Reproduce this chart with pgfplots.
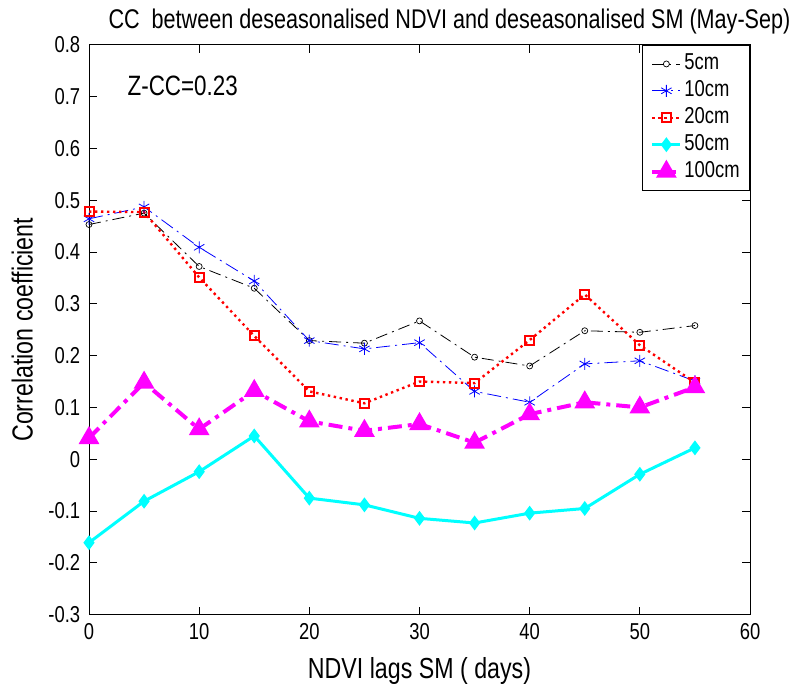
\documentclass[border=0pt]{standalone}
\usepackage{fontspec}
\setmainfont{Liberation Sans}[FakeStretch=0.8]
\usepackage{pgfplots}
\pgfplotsset{compat=1.18}
\definecolor{mcyan}{rgb}{0,1,1}
\definecolor{mmag}{rgb}{1,0,1}
\definecolor{mblue}{rgb}{0,0,1}
\definecolor{mred}{rgb}{1,0,0}
\begin{document}
\fontsize{26pt}{30pt}\selectfont
\begin{tikzpicture}
\begin{axis}[
  name=ax,
  scale only axis,
  width=661pt, height=570pt,
  xmin=0, xmax=60, ymin=-0.3, ymax=0.8,
  xtick={0,10,...,60},
  ytick={-0.3,-0.2,...,0.8},
  yticklabels={-0.3,-0.2,-0.1,0,0.1,0.2,0.3,0.4,0.5,0.6,0.7,0.8},
  tick align=inside,
  major tick length=8pt,
  tick style={black, line width=0.8pt},
  axis line style={line width=1pt},
  /pgf/number format/assume math mode=true,
  ticklabel style={font=\fontsize{23pt}{26pt}\selectfont},
  xlabel={NDVI lags SM ( days)},
  ylabel={Correlation coefficient},
  label style={font=\fontsize{29pt}{32pt}\selectfont},
  xlabel style={yshift=0pt},
  ylabel style={yshift=-2pt},
  title={CC\ \ between deseasonalised NDVI and deseasonalised SM (May-Sep)},
  title style={font=\fontsize{27pt}{30pt}\selectfont, yshift=-4pt, xshift=30pt},
  legend style={at={(1,1)}, anchor=north east, font=\fontsize{23pt}{26pt}\selectfont, draw=black, line width=0.8pt, inner xsep=8pt, inner ysep=7pt, row sep=3pt},
  legend cell align=left,
  legend image code/.code={\draw[#1] (0pt,0pt) -- (28pt,0pt) plot coordinates {(14pt,0pt)};},
]
\addplot[black, line width=0.8pt, dash pattern=on 12pt off 5pt on 2pt off 5pt, mark=o, mark size=3pt, mark options={solid, line width=0.7pt}]
coordinates {(0,0.453) (5,0.475) (10,0.372) (15,0.330) (20,0.229) (25,0.224) (30,0.267) (35,0.197) (40,0.180) (45,0.248) (50,0.245) (55,0.258)};
\addlegendentry{5cm}
\addplot[mblue, line width=0.8pt, dash pattern=on 14pt off 5pt on 2pt off 5pt, mark=asterisk, mark size=6pt, mark options={solid, line width=0.8pt}]
coordinates {(0,0.464) (5,0.487) (10,0.409) (15,0.344) (20,0.229) (25,0.213) (30,0.225) (35,0.131) (40,0.110) (45,0.184) (50,0.190) (55,0.151)};
\addlegendentry{10cm}
\addplot[mred, line width=2.4pt, dash pattern=on 2.4pt off 3.6pt, mark=square, mark size=4.5pt, mark options={solid, line width=2pt}]
coordinates {(0,0.478) (5,0.477) (10,0.351) (15,0.238) (20,0.131) (25,0.108) (30,0.150) (35,0.147) (40,0.230) (45,0.318) (50,0.220) (55,0.148)};
\addlegendentry{20cm}
\addplot[mcyan, line width=3pt, mark=diamond*, mark size=5pt, mark options={solid}]
coordinates {(0,-0.161) (5,-0.081) (10,-0.024) (15,0.045) (20,-0.075) (25,-0.088) (30,-0.114) (35,-0.123) (40,-0.104) (45,-0.095) (50,-0.029) (55,0.022)};
\addlegendentry{50cm}
\addplot[mmag, line width=4pt, dash pattern=on 14pt off 6pt on 4pt off 6pt, mark=triangle*, mark size=8pt, mark options={solid}]
coordinates {(0,0.041) (5,0.148) (10,0.058) (15,0.132) (20,0.073) (25,0.055) (30,0.068) (35,0.032) (40,0.087) (45,0.110) (50,0.100) (55,0.139)};
\addlegendentry{100cm}
\node[anchor=west, font=\fontsize{28pt}{30pt}\selectfont] at (axis cs:2.7,0.72) {Z-CC=0.23};
\end{axis}
\path (ax.south west) ++(-89pt,-70pt) coordinate (bl);
\path (ax.north east) ++(56pt,44pt) coordinate (tr);
\path[use as bounding box] (bl) rectangle (tr);
\end{tikzpicture}
\end{document}
